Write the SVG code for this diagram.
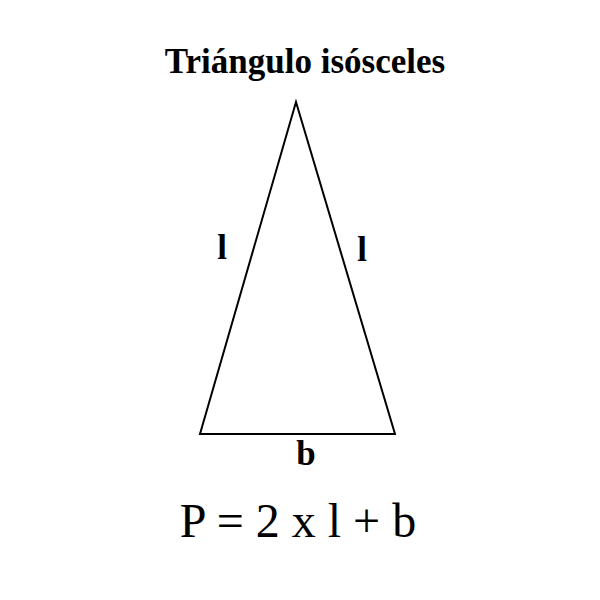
<svg xmlns="http://www.w3.org/2000/svg" width="600" height="600" viewBox="0 0 600 600">
<style>
.lbl{font-family:"Liberation Serif","Times New Roman",serif;font-weight:bold;font-size:35px;fill:#000}
.f{font-family:"Liberation Serif","Times New Roman",serif;font-size:48px;fill:#000}
</style>
<rect width="600" height="600" fill="#fff"/>
<text class="lbl" x="305" y="73" text-anchor="middle">Triángulo isósceles</text>
<g id="triangle">
<polygon points="296,102 200,434 395,434" fill="none" stroke="#000" stroke-width="2"/>
</g>
<g id="labels">
<text class="lbl" x="222" y="259" text-anchor="middle">l</text>
<text class="lbl" x="362" y="261" text-anchor="middle">l</text>
<text class="lbl" x="306" y="465" text-anchor="middle">b</text>
</g>
<text class="f" x="298" y="537" text-anchor="middle">P = 2 x l + b</text>
</svg>
